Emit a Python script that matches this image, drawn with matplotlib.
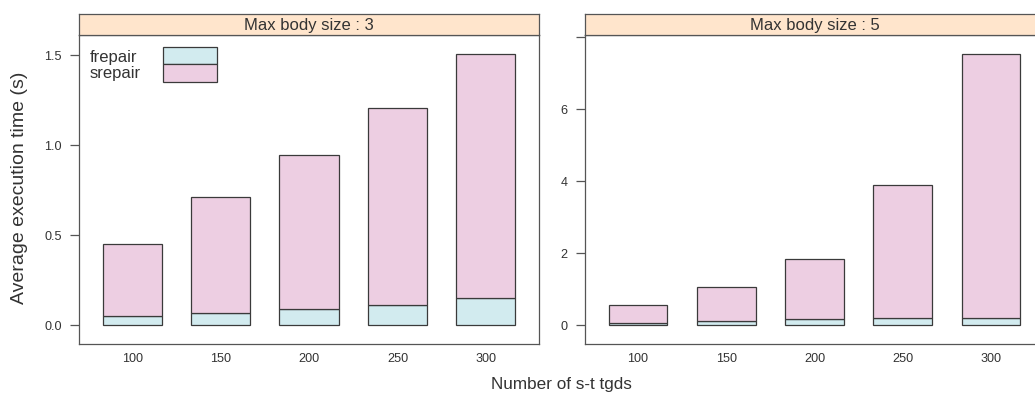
import matplotlib
matplotlib.use("Agg")
import matplotlib.pyplot as plt
from matplotlib.patches import Rectangle
import numpy as np

plt.rcParams["font.family"] = ["Liberation Sans", "DejaVu Sans"]

# Data
tgds = ["100", "150", "200", "250", "300"]
panels = ["Max body size : 3", "Max body size : 5"]
series = ["frepair", "srepair"]

frepair_3 = [0.048, 0.067, 0.089, 0.109, 0.152]
srepair_3 = [0.400, 0.644, 0.854, 1.098, 1.354]

frepair_5 = [0.056, 0.10, 0.16, 0.19, 0.20]
srepair_5 = [0.494, 0.95, 1.67, 3.71, 7.33]

ytick_3 = [0.0, 0.5, 1.0, 1.5]
ytick_labels_3 = ["0.0", "0.5", "1.0", "1.5"]
ytick_5 = [0, 2, 4, 6, 8]
ytick_labels_5 = ["0", "2", "4", "6", ""]

colors = {"frepair": "#D2EBEF", "srepair": "#EDCEE2"}
edge = "#3a3a3a"
axis_col = "#555555"
text_col = "#333333"
strip_col = "#FFE5CC"

W, H = 1035, 396
fig = plt.figure(figsize=(W / 100, H / 100), dpi=100)


def frac_box(x0, x1, ytop, ybot):
    return [x0 / W, (H - ybot) / H, (x1 - x0) / W, (ybot - ytop) / H]


panel_px = [(79, 539), (585, 1044)]
panel_top, panel_bot, strip_top = 35, 344, 14

data = [(frepair_3, srepair_3, ytick_3, ytick_labels_3),
        (frepair_5, srepair_5, ytick_5, ytick_labels_5)]

axes = []
for (x0, x1), title, (fr, sr, yt, ytl) in zip(panel_px, panels, data):
    ax = fig.add_axes(frac_box(x0, x1, panel_top, panel_bot))
    axes.append(ax)
    x = np.arange(1, len(tgds) + 1)
    fr = np.array(fr)
    sr = np.array(sr)
    ax.bar(x, fr, width=0.667, color=colors["frepair"], edgecolor=edge,
           linewidth=0.9, zorder=2)
    ax.bar(x, sr, bottom=fr, width=0.667, color=colors["srepair"],
           edgecolor=edge, linewidth=0.9, zorder=2)
    total = fr + sr
    pad = 0.07 * total.max()
    ax.set_ylim(-pad, total.max() + pad)
    ax.set_xlim(0.4, len(tgds) + 0.6)
    ax.set_xticks(x)
    ax.set_xticklabels(tgds)
    ax.set_yticks(yt)
    ax.set_yticklabels(ytl)
    ax.tick_params(axis="x", length=0, pad=6.5, labelsize=9.1,
                   labelcolor=text_col)
    ax.tick_params(axis="y", length=6.2, width=0.9, pad=6.2, labelsize=9.1,
                   labelcolor=text_col, color=axis_col)
    for sp in ax.spines.values():
        sp.set_color(axis_col)
        sp.set_linewidth(0.9)

    sax = fig.add_axes(frac_box(x0, x1, strip_top, panel_top))
    sax.set_facecolor(strip_col)
    sax.set_xticks([])
    sax.set_yticks([])
    for sp in sax.spines.values():
        sp.set_color(axis_col)
        sp.set_linewidth(0.9)
    sax.text(0.5, 0.45, title, transform=sax.transAxes, ha="center",
             va="center", fontsize=12, color=text_col)

# Legend inside the first panel
lax = axes[0]
leg_rows = [("frepair", 0.905, 0.960, 0.9126),
            ("srepair", 0.848, 0.905, 0.8618)]
for name, yb, yt_, ybase in leg_rows:
    lax.add_patch(Rectangle((0.1833, yb), 0.1160, yt_ - yb,
                            transform=lax.transAxes, facecolor=colors[name],
                            edgecolor=edge, linewidth=0.9, zorder=3))
    lax.text(0.0239, ybase, name, transform=lax.transAxes, ha="left",
             va="baseline", fontsize=12, color=text_col)

fig.text(561.5 / W, 1 - 384 / H, "Number of s-t tgds", ha="center",
         va="center", fontsize=12.3, color=text_col)
fig.text(20 / W, 1 - 187.5 / H, "Average execution time (s)", ha="center",
         va="center", rotation=90, fontsize=14.0, color=text_col)

fig.savefig("out.png", dpi=100)
